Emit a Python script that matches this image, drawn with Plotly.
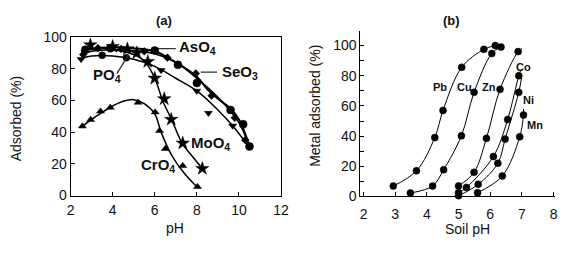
import plotly.graph_objects as go

# ---------------- Panel (a): anion adsorption vs pH ----------------
aso4_x = [2.7, 3.9, 6.0, 7.1, 8.0, 9.6, 10.2, 10.5]
aso4_y = [92, 93, 91.5, 82.5, 71, 54, 45, 31]
aso4_fit_x = [2.5, 3, 4, 5, 6, 7, 8, 8.5, 9, 9.5, 10, 10.5]
aso4_fit_y = [91, 92.5, 93.5, 93, 91, 84, 75, 67, 61, 56, 48, 31]

seo3_x = [2.6, 3.3, 4.4, 5.5, 6.6, 7.95, 8.7, 9.8, 10.3]
seo3_y = [89, 93, 92.5, 91, 87, 77, 63, 49, 35]
seo3_fit_x = [2.5, 3, 4, 5, 6, 7, 8, 9, 10, 10.4]
seo3_fit_y = [89, 91, 92, 91.5, 89.5, 84, 74, 62, 46, 34]

po4_x = [2.5, 3.5, 4.65, 6.3, 8.0, 8.55, 9.7]
po4_y = [86, 88.5, 87, 79, 66, 52, 44]
po4_fit_x = [2.4, 3, 4, 5, 6, 7, 8, 9, 9.7, 10.4]
po4_fit_y = [86, 88, 88, 86, 81.5, 74, 66, 54, 44, 32]

moo4_x = [2.94, 4.0, 4.7, 5.15, 5.67, 6.0, 6.45, 6.78, 7.33, 8.26]
moo4_y = [95, 94, 92.5, 90, 84.5, 74, 61, 48, 33, 17]
moo4_fit_x = [2.5, 3, 4, 5, 5.5, 6, 6.4, 6.8, 7.3, 7.8, 8.3]
moo4_fit_y = [91, 93, 92, 89, 85, 74, 59, 48, 33, 24.5, 16.5]

cro4_x = [2.56, 2.95, 3.42, 3.89, 5.21, 6.02, 6.23, 6.5, 7.33, 8.03]
cro4_y = [43.7, 47.8, 53.1, 55.5, 58.7, 52.6, 40.9, 29.5, 18.7, 5.5]
cro4_fit_x = [2.5, 3, 3.5, 4, 4.5, 5, 5.5, 6, 6.3, 6.8, 7.4, 8.0]
cro4_fit_y = [43, 48, 52.5, 56.5, 59.5, 60.5, 58, 51.5, 40, 25.5, 14, 5.5]

a_labels = ["<b>AsO<sub>4</sub></b>", "<b>SeO<sub>3</sub></b>", "<b>PO<sub>4</sub></b>",
            "<b>MoO<sub>4</sub></b>", "<b>CrO<sub>4</sub></b>"]
a_label_x = [7.05, 9.12, 3.73, 7.63, 7.05]
a_label_y = [93.5, 77.5, 75.5, 33, 19]
a_label_anchor = ["left", "left", "center", "left", "right"]
# leader lines
lead_x = [[6.15, 7.0], [8.18, 8.96], [4.2, 4.75]]
lead_y = [[92.7, 92.7], [77.9, 77.9], [76.9, 88.8]]

# ---------------- Panel (b): metal adsorption vs soil pH ----------------
pb_x = [2.94, 3.67, 4.25, 4.51, 5.10, 5.8, 6.16]
pb_y = [6.9, 17, 39, 57, 85.6, 97.5, 100]
cu_x = [3.48, 4.18, 4.53, 5.09, 5.49, 6.05, 6.34]
cu_y = [2.3, 6.9, 17.7, 40.2, 69, 94.8, 99]
zn_x = [5.0, 5.49, 5.88, 6.31, 6.88]
zn_y = [7, 16, 38.5, 71, 96]
co_x = [5.0, 5.25, 6.1, 6.55, 6.9]
co_y = [2.5, 6, 26.5, 51, 80]
ni_x = [5.0, 5.62, 6.24, 6.47, 6.9]
ni_y = [0.5, 8, 22, 38, 69]
mn_x = [5.6, 6.38, 6.93, 7.05]
mn_y = [2.5, 13.5, 39.5, 54]
# curve tails beyond the last marker
zn_tail = (7.0, 98)
co_tail = (6.97, 84)
ni_tail = (7.0, 80)
mn_tail = (7.05, 58)

b_labels = ["<b>Pb</b>", "<b>Cu</b>", "<b>Zn</b>", "<b>Co</b>", "<b>Ni</b>", "<b>Mn</b>"]
b_label_x = [4.43, 5.18, 5.97, 7.05, 7.22, 7.42]
b_label_y = [72.5, 72.5, 72.5, 86, 64, 47.5]

FONT = "Arial, Liberation Sans, sans-serif"
fig = go.Figure()

def curve(x, y, xa, ya, w):
    fig.add_trace(go.Scatter(x=x, y=y, mode="lines", xaxis=xa, yaxis=ya,
                             line=dict(color="black", width=w, shape="spline", smoothing=1.0),
                             hoverinfo="skip", showlegend=False, cliponaxis=False))

def marks(x, y, xa, ya, sym, size):
    fig.add_trace(go.Scatter(x=x, y=y, mode="markers", xaxis=xa, yaxis=ya,
                             marker=dict(color="black", symbol=sym, size=size,
                                         line=dict(color="black", width=0.5)),
                             showlegend=False, cliponaxis=False))

# panel a
curve(aso4_fit_x, aso4_fit_y, "x", "y", 2.0)
curve(seo3_fit_x, seo3_fit_y, "x", "y", 1.6)
curve(po4_fit_x, po4_fit_y, "x", "y", 1.5)
curve(moo4_fit_x, moo4_fit_y, "x", "y", 1.5)
curve(cro4_fit_x, cro4_fit_y, "x", "y", 1.5)
marks(aso4_x, aso4_y, "x", "y", "circle", 8)
marks(seo3_x, seo3_y, "x", "y", "diamond", 6)
po4_sym = ["triangle-down", "circle", "circle", "triangle-down", "triangle-down",
           "triangle-down", "triangle-down"]
marks(po4_x, po4_y, "x", "y", po4_sym, 7)
marks(moo4_x, moo4_y, "x", "y", "star", 10)
marks(cro4_x, cro4_y, "x", "y", "triangle-up", 7)
for lx, ly in zip(lead_x, lead_y):
    fig.add_trace(go.Scatter(x=lx, y=ly, mode="lines", xaxis="x", yaxis="y",
                             line=dict(color="#333", width=1.3), showlegend=False,
                             hoverinfo="skip"))

# panel b
for (x, y, tail) in [(pb_x, pb_y, None), (cu_x, cu_y, None), (zn_x, zn_y, zn_tail),
                     (co_x, co_y, co_tail), (ni_x, ni_y, ni_tail), (mn_x, mn_y, mn_tail)]:
    cx = list(x) + ([tail[0]] if tail else [])
    cy = list(y) + ([tail[1]] if tail else [])
    curve(cx, cy, "x2", "y2", 1.0)
    marks(x, y, "x2", "y2", "circle", 7)

annos = []
for t, x, y, a in zip(a_labels, a_label_x, a_label_y, a_label_anchor):
    annos.append(dict(text=t, x=x, y=y, xref="x", yref="y", xanchor=a, yanchor="middle",
                      showarrow=False, font=dict(family=FONT, size=15, color="#111")))
for t, x, y in zip(b_labels, b_label_x, b_label_y):
    annos.append(dict(text=t, x=x, y=y, xref="x2", yref="y2", xanchor="center",
                      yanchor="middle", showarrow=False,
                      font=dict(family=FONT, size=11, color="#111")))

def paper_text(text, px, py, size, angle=0):
    return dict(text=text, x=px / 571, y=1 - py / 256, xref="paper", yref="paper",
                xanchor="center", yanchor="middle", textangle=angle, showarrow=False,
                font=dict(family=FONT, size=size, color="#111"))

annos += [
    paper_text("<b>(a)</b>", 163, 13, 13),
    paper_text("<b>(b)</b>", 457, 13, 13),
    paper_text("Adsorbed (%)", 12, 118, 14, -90),
    paper_text("pH", 175, 235, 14),
    paper_text("Soil pH", 473, 236, 14),
    paper_text("Metal adsorbed (%)", 317, 104, 14, -90),
]

axis_common = dict(showgrid=False, zeroline=False, showline=True, linecolor="black",
                   linewidth=1, ticks="inside", ticklen=4, tickcolor="black",
                   tickfont=dict(family=FONT, size=14, color="#111"))

fig.update_layout(
    width=571, height=256, margin=dict(l=0, r=0, t=0, b=0),
    paper_bgcolor="white", plot_bgcolor="white", showlegend=False,
    font=dict(family=FONT, color="#111"),
    xaxis=dict(domain=[68 / 571, 283 / 571], range=[2, 12], dtick=2, mirror=True,
               anchor="y", ticklabelstandoff=2, **axis_common),
    yaxis=dict(domain=[1 - 200 / 256, 1 - 31 / 256], range=[0, 100], dtick=20, mirror=True,
               anchor="x", **axis_common),
    xaxis2=dict(domain=[364 / 571, 563 / 571], range=[1.9, 8.05], tick0=2, dtick=1,
                anchor="y2", ticklabelstandoff=5, **axis_common),
    yaxis2=dict(domain=[1 - 201 / 256, 1 - 24 / 256], range=[0, 110], tick0=0, dtick=20,
                minor=dict(dtick=10, ticks="inside", ticklen=4, tickcolor="black",
                           showgrid=False),
                anchor="x2", **axis_common),
    annotations=annos,
)

fig.write_html("out.html")
